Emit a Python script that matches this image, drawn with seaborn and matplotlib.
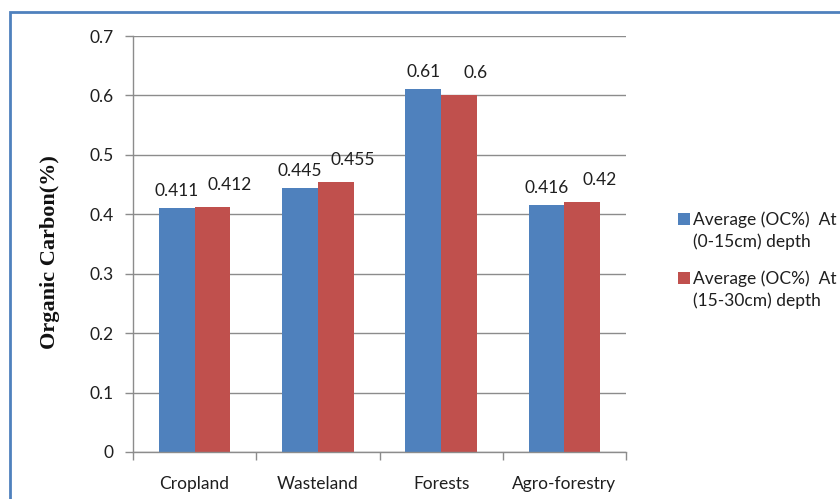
import matplotlib
matplotlib.use("Agg")
import matplotlib.pyplot as plt
import seaborn as sns
import pandas as pd
from matplotlib.patches import Rectangle
from matplotlib.ticker import FixedLocator

categories = ["Cropland", "Wasteland", "Forests", "Agro-forestry"]
depth_0_15 = [0.411, 0.445, 0.61, 0.416]
depth_15_30 = [0.412, 0.455, 0.6, 0.42]
series_names = ["Average (OC%)  At\n(0-15cm) depth", "Average (OC%)  At\n(15-30cm) depth"]
value_labels_0_15 = ["0.411", "0.445", "0.61", "0.416"]
value_labels_15_30 = ["0.412", "0.455", "0.6", "0.42"]
y_ticks = [0, 0.1, 0.2, 0.3, 0.4, 0.5, 0.6, 0.7]
y_label = "Organic Carbon(%)"

colors = ["#4F81BD", "#C0504D"]
text_color = "#1f1f1f"
FS = 12.5

df = pd.DataFrame({
    "category": categories * 2,
    "value": depth_0_15 + depth_15_30,
    "series": [series_names[0]] * 4 + [series_names[1]] * 4,
})

sns.set_theme(style="white")
plt.rcParams["font.family"] = ["Lato", "DejaVu Sans"]

W, H = 840, 499
fig = plt.figure(figsize=(W / 100, H / 100), dpi=100)
ax = fig.add_axes([133 / W, 1 - 452 / H, (626 - 133) / W, (452 - 36) / H])

sns.barplot(data=df, x="category", y="value", hue="series", order=categories,
            hue_order=series_names, palette=colors, width=0.58, saturation=1,
            ax=ax, legend=False)

for p in ax.patches:
    p.set_edgecolor("none")

ax.set_ylim(0, 0.7)
ax.set_xlim(-0.5, 3.5)
ax.set_yticks(y_ticks)
ax.set_yticklabels([("0" if v == 0 else f"{v:g}") for v in y_ticks], fontsize=FS, color=text_color)
ax.yaxis.grid(True, color="#8c8c8c", linewidth=1)
ax.set_axisbelow(True)
ax.tick_params(axis="y", length=6, width=1, color="#8c8c8c", pad=8, left=True)

ax.set_xticks(range(len(categories)))
ax.set_xticklabels(categories, fontsize=FS, color=text_color)
ax.tick_params(axis="x", which="major", length=0, pad=17)
ax.xaxis.set_minor_locator(FixedLocator([-0.5, 0.5, 1.5, 2.5, 3.5]))
ax.tick_params(axis="x", which="minor", length=6, width=1, color="#8c8c8c", bottom=True)
ax.set_xlabel("")
ax.set_ylabel(y_label, family=["Liberation Serif"], fontweight="bold", fontsize=16,
              color="#111111", va="center")
ax.yaxis.set_label_coords((50 - 133) / 493, (452 - 252) / 416)

for s in ["top", "right"]:
    ax.spines[s].set_visible(False)
for s in ["left", "bottom"]:
    ax.spines[s].set_color("#8c8c8c")
    ax.spines[s].set_linewidth(1)

# data labels (Excel-like placement: red labels nudged right)
offsets = [(0, 12), (17, 17)]
for cont, labels, (dx, dy) in zip(ax.containers, [value_labels_0_15, value_labels_15_30], offsets):
    for bar, lab in zip(cont, labels):
        ax.annotate(lab, xy=(bar.get_x() + bar.get_width() / 2, bar.get_height()),
                    xytext=(dx, dy), textcoords="offset pixels", ha="center",
                    va="baseline", fontsize=FS, color=text_color)

# legend (manual, handle aligned to first text line as in the original)
entries_y = [225, 284]  # baseline of first line, pixels from top
for col, name, yb in zip(colors, series_names, entries_y):
    fig.patches.append(Rectangle((678 / W, 1 - yb / H), 12 / W, 12 / H,
                                 transform=fig.transFigure, facecolor=col,
                                 edgecolor="none", figure=fig))
    l1, l2 = name.split("\n")
    fig.text(693 / W, 1 - yb / H, l1, fontsize=FS, color=text_color, va="baseline", ha="left")
    fig.text(693 / W, 1 - (yb + 22) / H, l2, fontsize=FS, color=text_color, va="baseline", ha="left")

# blue outer border
fig.patches.append(Rectangle((10 / W, -0.1), 1.2, 1 - 12 / H + 0.1, transform=fig.transFigure,
                             fill=False, edgecolor="#4F81BD", linewidth=2, figure=fig))

fig.savefig("out.png", dpi=100)
